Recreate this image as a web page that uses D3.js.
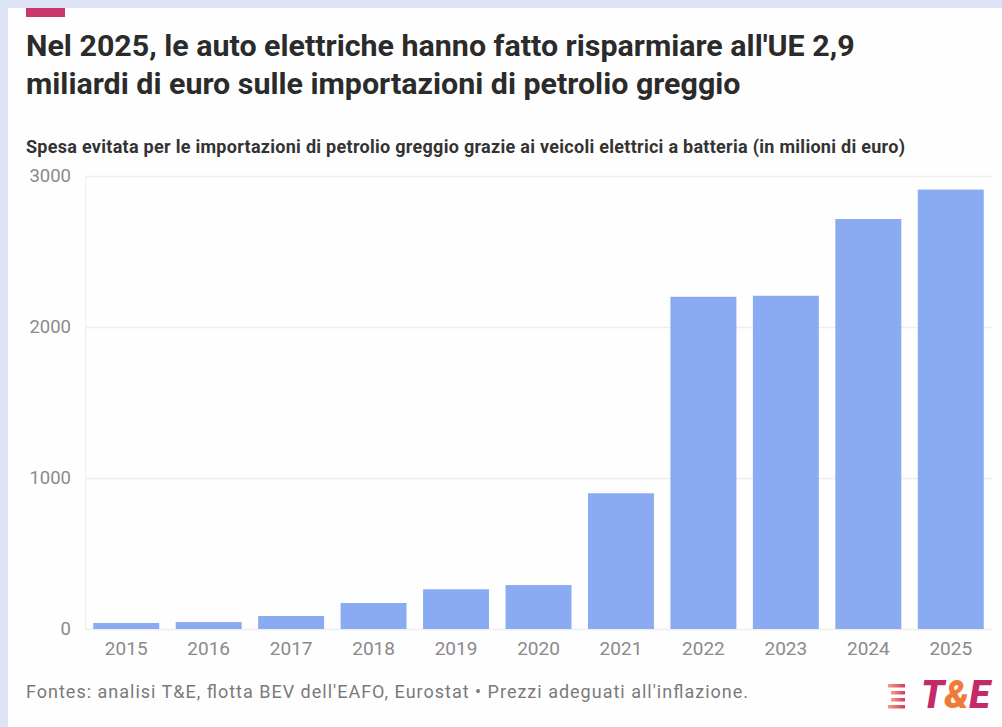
<!DOCTYPE html>
<html>
<head>
<meta charset="utf-8">
<script src="https://cdn.jsdelivr.net/npm/d3@7"></script>
<style>
  html, body { margin: 0; padding: 0; background: #dde4f6; }
  svg { display: block; font-family: Roboto, "Noto Sans", sans-serif; }
</style>
</head>
<body>
<svg id="chart"></svg>
<script>
"use strict";

const years = ["2015", "2016", "2017", "2018", "2019", "2020", "2021", "2022", "2023", "2024", "2025"];
const savings = [40, 46, 86, 172, 263, 291, 899, 2200, 2207, 2715, 2910];
const yTicks = [0, 1000, 2000, 3000];

const titleLines = [
    "Nel 2025, le auto elettriche hanno fatto risparmiare all'UE 2,9",
    "miliardi di euro sulle importazioni di petrolio greggio"
];
const subtitle = "Spesa evitata per le importazioni di petrolio greggio grazie ai veicoli elettrici a batteria (in milioni di euro)";
const source = "Fontes: analisi T&E, flotta BEV dell'EAFO, Eurostat \u2022 Prezzi adeguati all'inflazione.";

const width = 1002, height = 727;
const svg = d3.select("#chart").attr("width", width).attr("height", height);

// card
svg.append("rect").attr("x", 8).attr("y", 8).attr("width", width - 8).attr("height", height - 8)
    .attr("fill", "#fefefe");
svg.append("rect").attr("x", 26).attr("y", 8).attr("width", 39).attr("height", 9)
    .attr("fill", "#c9376b");

// title
svg.append("text")
    .attr("x", 26).attr("y", 56)
    .attr("font-size", 30.4).attr("font-weight", 700).attr("fill", "#2b2b2b")
    .selectAll("tspan").data(titleLines).join("tspan")
    .attr("x", 26).attr("dy", (d, i) => i === 0 ? 0 : 38)
    .text(d => d);

svg.append("text")
    .attr("x", 26).attr("y", 153)
    .attr("font-size", 18).attr("font-weight", 700).attr("fill", "#333")
    .attr("textLength", 879).attr("lengthAdjust", "spacing")
    .text(subtitle);

const margin = { left: 85, right: 10, top: 176, bottom: 98 };

const x = d3.scaleBand()
    .domain(years)
    .range([margin.left, width - margin.right])
    .paddingInner(0.2)
    .paddingOuter(0.1);

const y = d3.scaleLinear()
    .domain([0, 3000])
    .range([height - margin.bottom, margin.top]);

// gridlines
const yAxis = d3.axisLeft(y).tickValues(yTicks).tickFormat(d3.format("d"))
    .tickSize(-(width - margin.right - margin.left)).tickPadding(14);
const gy = svg.append("g").attr("transform", `translate(${margin.left},0)`).call(yAxis);
gy.select(".domain").attr("stroke", "#eeeeee");
gy.selectAll(".tick line").attr("stroke", "#eeeeee").attr("stroke-width", 1.5);
gy.selectAll(".tick text").attr("fill", "#8a8a8a").attr("font-size", 18.5)
    .attr("font-family", "Roboto, sans-serif");

// bars
svg.append("g").selectAll("rect")
    .data(years.map((yr, i) => ({ yr, v: savings[i] })))
    .join("rect")
    .attr("x", d => x(d.yr))
    .attr("y", d => y(d.v))
    .attr("width", x.bandwidth())
    .attr("height", d => y(0) - y(d.v))
    .attr("fill", "#8aabf1");

// x axis
const xAxis = d3.axisBottom(x).tickSize(0).tickPadding(13);
const gx = svg.append("g").attr("transform", `translate(0,${y(0)})`).call(xAxis);
gx.select(".domain").remove();
gx.selectAll(".tick text").attr("fill", "#8a8a8a").attr("font-size", 19)
    .attr("font-family", "Roboto, sans-serif");

// source
svg.append("text")
    .attr("x", 26).attr("y", 698)
    .attr("font-size", 18).attr("fill", "#7a7a7a")
    .attr("textLength", 722).attr("lengthAdjust", "spacing")
    .text(source);

// logo
const logo = svg.append("g").attr("transform", "translate(888,682)");
const grad = svg.append("defs").append("linearGradient").attr("id", "stripe")
    .attr("x1", "0%").attr("x2", "100%");
grad.append("stop").attr("offset", "0%").attr("stop-color", "#f4a07a");
grad.append("stop").attr("offset", "100%").attr("stop-color", "#d2356a");
logo.selectAll("rect").data([0, 1, 2, 3]).join("rect")
    .attr("x", d => d === 0 || d === 3 ? 0 : 3)
    .attr("y", d => 2 + d * 7)
    .attr("width", d => d === 0 || d === 3 ? 17 : 14)
    .attr("height", 3.5)
    .attr("fill", "url(#stripe)");
const logoText = svg.append("text")
    .attr("x", 921).attr("y", 708)
    .attr("font-size", 38).attr("font-weight", 900).attr("font-style", "italic")
    .attr("font-family", "Roboto, sans-serif");
logoText.append("tspan").attr("fill", "#c42a67").text("T");
logoText.append("tspan").attr("fill", "#f07a3a").text("&");
logoText.append("tspan").attr("fill", "#c42a67").text("E");
</script>
</body>
</html>
